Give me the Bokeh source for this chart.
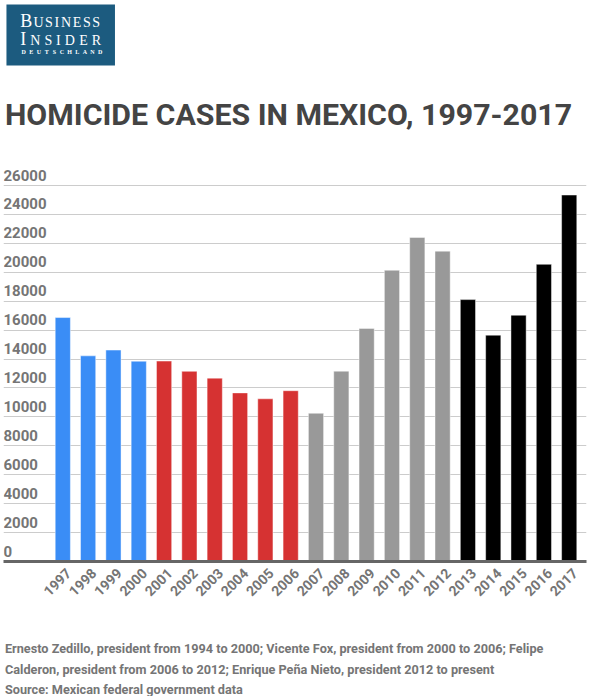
import math
from bokeh.plotting import figure
from bokeh.layouts import column
from bokeh.models import Range1d, FixedTicker, ColumnDataSource, LinearAxis
from bokeh.core.properties import value
from bokeh.embed import file_html
from bokeh.resources import INLINE

# ---------------- data ----------------
years = ["1997", "1998", "1999", "2000", "2001", "2002", "2003", "2004", "2005", "2006", "2007",
         "2008", "2009", "2010", "2011", "2012", "2013", "2014", "2015", "2016", "2017"]
cases = [16870, 14220, 14620, 13850, 13860, 13150, 12680, 11660, 11250, 11810, 10250,
         13160, 16120, 20140, 22410, 21460, 18110, 15650, 17030, 20550, 25340]
president = ["Zedillo"] * 4 + ["Fox"] * 6 + ["Calderon"] * 6 + ["Pena Nieto"] * 5
y_ticks = [0, 2000, 4000, 6000, 8000, 10000, 12000, 14000, 16000, 18000, 20000, 22000, 24000, 26000]
y_tick_labels = [str(t) for t in y_ticks]

title_text = "HOMICIDE CASES IN MEXICO, 1997-2017"
footer_lines = [
    "Ernesto Zedillo, president from 1994 to 2000; Vicente Fox, president from 2000 to 2006; Felipe",
    "Calderon, president from 2006 to 2012; Enrique Peña Nieto, president 2012 to present",
    "Source: Mexican federal government data",
]

# ---------------- styles ----------------
party_colors = {"Zedillo": "#3a8df6", "Fox": "#d63232", "Calderon": "#999999", "Pena Nieto": "#000000"}
W = 591
FONT = value("Roboto")
SERIF = value("Liberation Serif")
GREY_TXT = "#757575"

def bare(p):
    p.grid.visible = False
    p.outline_line_color = None
    p.min_border_left = p.min_border_right = p.min_border_top = p.min_border_bottom = 0
    p.background_fill_color = "white"
    p.border_fill_color = "white"

# ---------------- header (logo + title) ----------------
HH = 160
header = figure(width=W, height=HH, output_backend="svg", toolbar_location=None,
                x_axis_location=None, y_axis_location=None,
                x_range=Range1d(0, W), y_range=Range1d(HH, 0))
bare(header)
header.quad(left=[3], right=[113], top=[4], bottom=[65], fill_color="#1c5b7f", line_color=None)

def letters(p, chars, centers, baseline, sizes, bold=False):
    p.text(x=centers, y=[baseline - 0.334 * s for s in sizes], text=list(chars),
           text_font=SERIF, text_font_size=[f"{s}px" for s in sizes],
           text_font_style="bold" if bold else "normal",
           text_color="white", text_align="center", text_baseline="middle")

letters(header, "BUSINESS", [23, 35.5, 46, 54, 63.3, 74.5, 84.5, 94], 27,
        [18, 14, 14, 14, 14, 14, 14, 14])
letters(header, "INSIDER", [20, 32.2, 45.4, 55.6, 67.3, 81, 94.2], 44.5,
        [18, 14, 14, 14, 14, 14, 14])
letters(header, "DEUTSCHLAND", [20.5 + 7.75 * i for i in range(11)], 54, [6] * 11, bold=True)

header.text(x=[1.5], y=[114], text=[title_text], text_font=FONT, text_font_size="30.3px",
            text_font_style="bold", text_color="#444444", text_align="left",
            text_baseline="middle")

# ---------------- chart ----------------
LEFT, RIGHT = 3, 5
FRAME_W = W - LEFT - RIGHT
FRAME_H = 401
BOTTOM = 64
step = 25.32
x0 = -(62.3 - LEFT) / step
x1 = x0 + FRAME_W / step
px_per = 376 / 26000
y1 = FRAME_H / px_per
lab_shift = 5.5 / step

src = ColumnDataSource(dict(x=list(range(len(years))), top=cases,
                            color=[party_colors[p] for p in president]))

chart = figure(width=W, height=FRAME_H + BOTTOM, output_backend="svg", toolbar_location=None,
               x_axis_location=None, y_axis_location=None,
               x_range=Range1d(x0, x1), y_range=Range1d(0, y1))
chart.outline_line_color = None
chart.min_border_left = LEFT
chart.min_border_right = RIGHT
chart.min_border_top = 0
chart.min_border_bottom = BOTTOM
chart.xgrid.visible = False
chart.ygrid.ticker = FixedTicker(ticks=y_ticks)
chart.ygrid.grid_line_color = "#cccccc"
chart.ygrid.grid_line_width = 1

chart.vbar(x="x", top="top", bottom=0, width=0.6, source=src, fill_color="color",
           line_color="white", line_alpha=0.45, line_width=1)

chart.text(x=[x0] * len(y_ticks), y=y_ticks, text=y_tick_labels, text_font=FONT,
           text_font_size="15px", text_font_style="bold", text_color=GREY_TXT,
           text_align="left", text_baseline="middle", y_offset=-10.5)

chart.extra_x_ranges = {"labels": Range1d(x0 - lab_shift, x1 - lab_shift)}
ax = LinearAxis(x_range_name="labels")
ax.ticker = FixedTicker(ticks=list(range(len(years))))
ax.major_label_overrides = {i: y for i, y in enumerate(years)}
ax.major_label_orientation = math.pi / 4
ax.major_label_text_font = "Roboto"
ax.major_label_text_font_style = "bold"
ax.major_label_text_font_size = "14px"
ax.major_label_text_color = GREY_TXT
ax.major_tick_line_color = None
ax.minor_tick_line_color = None
ax.major_tick_out = 0
ax.major_tick_in = 0
ax.major_label_standoff = 9
ax.axis_line_color = "#666666"
ax.axis_line_width = 3
chart.add_layout(ax, "below")

# ---------------- footer ----------------
FH = 71
footer = figure(width=W, height=FH, output_backend="svg", toolbar_location=None,
                x_axis_location=None, y_axis_location=None,
                x_range=Range1d(0, W), y_range=Range1d(FH, 0))
bare(footer)
footer.text(x=[1.5, 1.5, 1.5], y=[22.5, 43.5, 64], text=footer_lines, text_font=FONT,
            text_font_size="12.7px", text_font_style="bold", text_color=GREY_TXT,
            text_align="left", text_baseline="middle")

layout = column(header, chart, footer, spacing=0)
open("out.html", "w").write(file_html(layout, INLINE))
